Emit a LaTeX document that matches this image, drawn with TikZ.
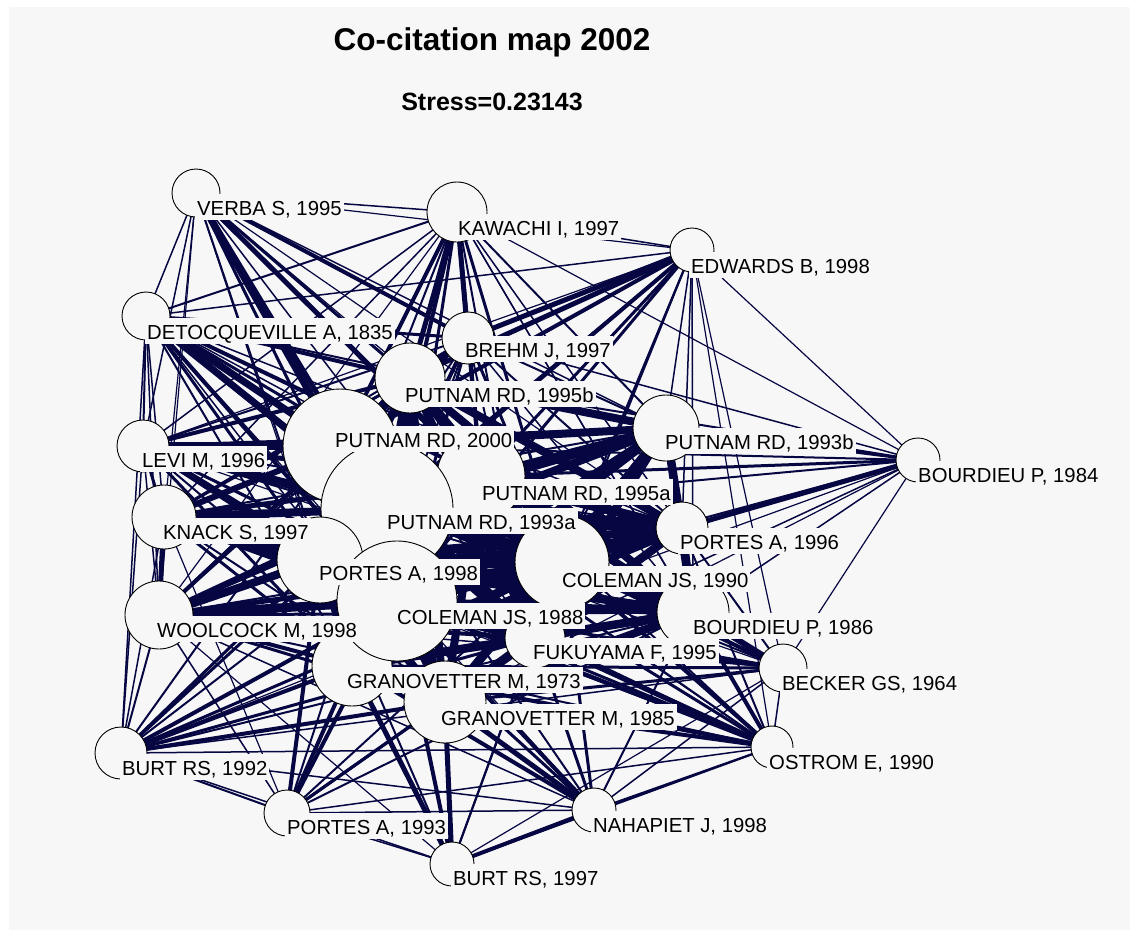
\documentclass[tikz,border=0pt]{standalone}
\usepackage{fontspec}
\setmainfont{Liberation Sans}
\definecolor{bgc}{RGB}{247,247,247}
\definecolor{edgec}{RGB}{6,6,66}
\begin{document}
\begin{tikzpicture}[x=1pt,y=-1pt,
  edge/.style={draw=edgec},
  nd/.style={circle, draw=black, line width=0.9pt, fill=bgc, inner sep=0pt},
  lab/.style={anchor=base west, inner xsep=2pt, inner ysep=0pt, text height=21.5pt, text depth=5pt, fill=bgc, font=\fontsize{20.3}{24}\selectfont}]
\useasboundingbox (0,0) rectangle (1130,930);
\fill[white] (0,0) rectangle (1130,930);
\fill[bgc] (9,7) rectangle (1130,930);
% node centres
\foreach \n/\x/\y in {ve/196/193, ka/457/212, ed/692/250, de/146/316, br/468/338,
  p5b/410/378, p00/340/446, p3b/666/428, bo4/918/460, le/143/446, p5a/481/476,
  p3a/387/509, kn/164/517, pa8/320/560, c90/562/562, pa6/682/528, c88/397/601,
  wo/159/615, bo6/693/612, fu/535/638, be/783/668, g73/352/666, g85/445/702,
  b92/121/753, os/772/747, pa3/287/813, na/594/810, b97/452/864}
  \coordinate (\n) at (\x,\y);
% core edges
\foreach \a [count=\i] in {p00,p3a,p5a,p5b,c88,c90,pa8,fu,g73,g85,bo6,p3b,pa6}{
  \foreach \b [count=\j] in {p00,p3a,p5a,p5b,c88,c90,pa8,fu,g73,g85,bo6,p3b,pa6}{
    \ifnum\j>\i \draw[edge, line width=8pt] (\a) -- (\b); \fi
  }
}
\foreach \a/\b in {p3a/c90,c88/c90,pa8/c90,p3a/pa6,c88/pa6,p5a/c88,c88/fu,c90/bo6,p3a/fu}
  \draw[edge, line width=14pt] (\a) -- (\b);
% peripheral edges
\foreach \b/\w in {ka/1.5,de/1.5,le/1.5,kn/1.2,wo/1.2,br/4,p00/7,p3a/5,p5b/3,p5a/5,c88/3,c90/2,pa8/2,fu/1.5,g73/1.2,p3b/1.5,ed/1.2,bo6/1.2,pa6/1.2}
  \draw[edge, line width=\w pt] (ve) -- (\b);
\foreach \b/\w in {ed/1.5,br/5,p5b/5,p00/4,p3a/4,p5a/4,c88/3,c90/3,p3b/2,pa6/1.5,fu/2,de/2,le/1.5,kn/1.5,wo/1.2,bo6/1.5,bo4/1.2,g73/1.5,os/1.2,pa8/2}
  \draw[edge, line width=\w pt] (ka) -- (\b);
\foreach \b/\w in {br/5,p5b/5,p00/4,p3a/4,p5a/3,c88/3,c90/2,p3b/1.5,pa6/1.5,bo4/1.2,bo6/1.5,fu/2,de/1.5,le/1.2,be/1.2,os/1.2,pa8/2}
  \draw[edge, line width=\w pt] (ed) -- (\b);
\foreach \b/\w in {bo4/1.5,p5b/5,p00/4,p3a/4,p5a/4,c88/3,c90/3,p3b/2,pa6/2,de/3,le/2,kn/2,wo/2,fu/2,g73/2,bo6/1.5,pa8/2}
  \draw[edge, line width=\w pt] (br) -- (\b);
\foreach \b/\w in {le/2,kn/1.5,wo/1.5,b92/1.5,p00/7,p3a/7,p5a/4,p5b/4,c88/4,c90/3,pa8/3,fu/2,g73/2,g85/1.5,p3b/2,pa6/1.5,bo6/1.5,os/1.2,na/1.2}
  \draw[edge, line width=\w pt] (de) -- (\b);
\foreach \b/\w in {kn/3,wo/1.5,b92/1.5,p00/8,p3a/8,p5a/5,p5b/4,c88/6,c90/5,pa8/5,fu/3,g73/3,g85/2,bo6/2,p3b/3,pa6/2,be/1.2,os/1.2}
  \draw[edge, line width=\w pt] (le) -- (\b);
\foreach \b/\w in {wo/5,b92/1.5,p00/6,p3a/8,p5a/5,p5b/3,c88/8,c90/6,pa8/9,fu/4,g73/3,g85/2,bo6/2,p3b/2,pa6/3,os/1.2,pa3/1.2}
  \draw[edge, line width=\w pt] (kn) -- (\b);
\foreach \b/\w in {b92/2,pa3/1.5,p00/4,p3a/6,p5a/3,p5b/3,c88/9,c90/5,pa8/8,fu/4,g73/4,g85/3,bo6/3,p3b/2,pa6/2,be/1.5,os/2,na/1.5,b97/1.2}
  \draw[edge, line width=\w pt] (wo) -- (\b);
\foreach \b/\w in {pa3/2,b97/1.5,na/1.5,os/1.5,g73/4,g85/4,c88/4,c90/3,pa8/3,fu/3,p3a/3,p00/2,bo6/2,be/1.5,p5a/2,pa6/1.2}
  \draw[edge, line width=\w pt] (b92) -- (\b);
\foreach \b/\w in {be/1.5,fu/5,g85/4,g73/4,c88/4,c90/4,bo6/4,pa8/3,p3a/3,p00/2,p5a/2,pa6/2,na/2,b97/2,pa3/1.5}
  \draw[edge, line width=\w pt] (os) -- (\b);
\foreach \b/\w in {bo6/6,fu/4,c90/4,c88/3,g73/3,g85/3,pa6/2,p3a/2,na/1.5,b97/1.2,bo4/1.2}
  \draw[edge, line width=\w pt] (be) -- (\b);
\foreach \b/\w in {g73/4,g85/3,c88/4,pa8/4,fu/3,c90/2,na/1.5,b97/1.5,bo6/2,p3a/2}
  \draw[edge, line width=\w pt] (pa3) -- (\b);
\foreach \b/\w in {g85/5,g73/4,c88/4,c90/3,fu/3,pa8/3,b97/4,bo6/2,p3a/2}
  \draw[edge, line width=\w pt] (na) -- (\b);
\foreach \b/\w in {g85/5,g73/5,c88/4,fu/2,c90/2,pa8/2}
  \draw[edge, line width=\w pt] (b97) -- (\b);
\foreach \b/\w in {p3b/3,pa6/5,p5a/3,c90/3,p5b/2,p00/2,c88/2,fu/1.5,bo6/1.5,g73/1.2,g85/1.2,p3a/2}
  \draw[edge, line width=\w pt] (bo4) -- (\b);
% circles
\foreach \n/\r in {ve/24, ka/30, ed/22, de/24, br/26, le/26, kn/32, wo/34, b92/26,
  pa3/23, b97/22, na/22, os/21, be/24, bo4/22, p3b/33, pa6/26, p5b/35, bo6/36,
  fu/30, g85/41, g73/40, p00/57, p5a/44, p3a/66, pa8/43, c88/60, c90/47}
  \node[nd, minimum size={2*\r pt}] (\n-c) at (\n) {};
% labels
\foreach \n/\x/\y/\t in {ve/197/208/{VERBA S, 1995}, ka/458/228/{KAWACHI I, 1997},
  ed/691/266/{EDWARDS B, 1998}, de/147/332/{DETOCQUEVILLE A, 1835},
  br/465/350/{BREHM J, 1997}, p5b/405/395/{PUTNAM RD, 1995b},
  p00/335/440/{PUTNAM RD, 2000}, p3b/665/442/{PUTNAM RD, 1993b},
  bo4/918/475/{BOURDIEU P, 1984}, le/142/460/{LEVI M, 1996},
  p5a/482/493/{PUTNAM RD, 1995a}, p3a/387/522/{PUTNAM RD, 1993a},
  kn/163/532/{KNACK S, 1997}, pa8/319/573/{PORTES A, 1998},
  c90/562/580/{COLEMAN JS, 1990}, pa6/680/542/{PORTES A, 1996},
  c88/397/617/{COLEMAN JS, 1988}, wo/157/630/{WOOLCOCK M, 1998},
  bo6/693/627/{BOURDIEU P, 1986}, fu/533/652/{FUKUYAMA F, 1995},
  be/782/683/{BECKER GS, 1964}, g73/347/681/{GRANOVETTER M, 1973},
  g85/441/718/{GRANOVETTER M, 1985}, b92/122/768/{BURT RS, 1992},
  os/769/762/{OSTROM E, 1990}, pa3/287/827/{PORTES A, 1993},
  na/593/825/{NAHAPIET J, 1998}, b97/453/878/{BURT RS, 1997}}
  \node[lab] (\n-l) at (\x-2,\y+7.3) {\t};
% titles
\node[font=\bfseries\fontsize{31.5}{36}\selectfont, anchor=base, inner sep=0pt] (title) at (492,50) {Co-citation map 2002};
\node[font=\bfseries\fontsize{25}{30}\selectfont, anchor=base, inner sep=0pt] (stress) at (492,110) {Stress=0.23143};
\end{tikzpicture}
\end{document}
